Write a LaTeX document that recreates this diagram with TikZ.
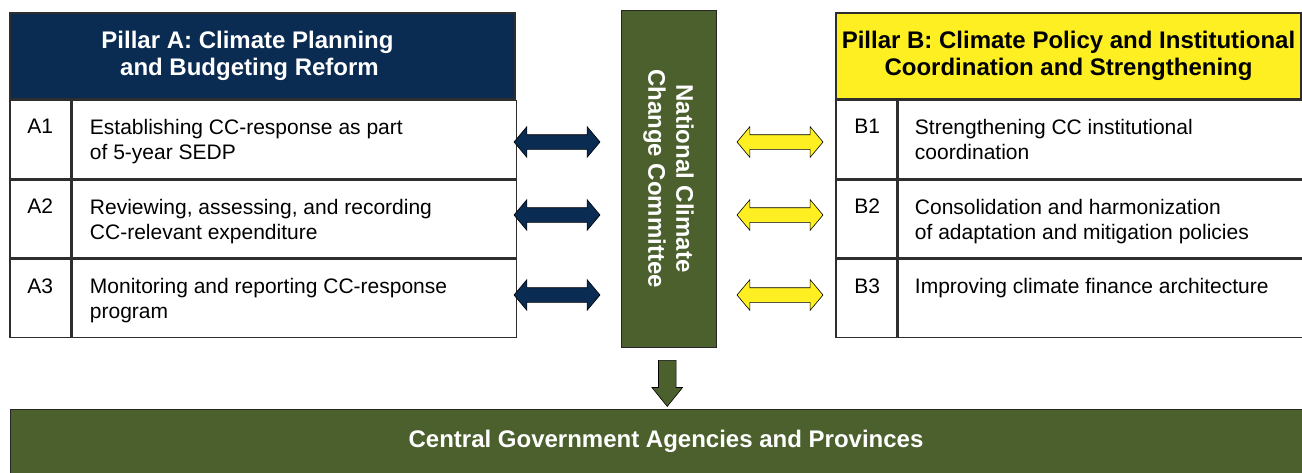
\documentclass[tikz,border=0pt]{standalone}
\usepackage{fontspec}
\setmainfont{Liberation Sans}
\usetikzlibrary{arrows.meta,calc,positioning,shapes.arrows}
\definecolor{pillarnavy}{HTML}{0A2B52}
\definecolor{pillaryellow}{HTML}{FDEF22}
\definecolor{nccgreen}{HTML}{4B602D}
\definecolor{tblline}{HTML}{2E2E2E}
\newcommand{\bodyfont}{\fontsize{21}{25}\selectfont}
\newcommand{\headfont}{\fontsize{24}{26.5}\selectfont\bfseries}

\begin{document}
\begin{tikzpicture}[
    x=1pt, y=-1pt,
    header/.style={draw=tblline, line width=1.5pt, fill=#1, minimum height=86,
                   align=center, font=\headfont, inner sep=0},
    idcell/.style={draw=tblline, line width=1.5pt, minimum width=61,
                   minimum height=78, anchor=north west, inner sep=0},
    txtcell/.style={idcell, minimum width=#1},
    celltext/.style={anchor=north west, inner sep=0, align=left, font=\bodyfont},
    dblarrow/.style={double arrow, fill=#1, draw=black, line width=0.6pt,
                     minimum height=86, inner xsep=0, inner ysep=7,
                     double arrow head extend=8, double arrow tip angle=100},
]
\useasboundingbox (0,0) rectangle (1302,472);

% Pillar A
\node[header=pillarnavy, text=white, minimum width=505] (ha) at (262.5,56)
     {\hspace*{-30pt}Pillar A: Climate Planning\\\hspace*{-26pt}and Budgeting Reform};
\node[idcell] (a1id) at (ha.south west) {};
\node[txtcell=444] (a1tx) at (a1id.north east) {};
\node[idcell] (a2id) at (a1id.south west) {};
\node[txtcell=444] (a2tx) at (a2id.north east) {};
\node[idcell] (a3id) at (a2id.south west) {};
\node[txtcell=444] (a3tx) at (a3id.north east) {};

\node[celltext] (a1l) at ($(a1id.north west)+(18,19.5)$) {A1};
\node[celltext] (a1t) at ($(a1tx.north west)+(18,19.5)$)
     {Establishing CC-response as part\\of 5-year SEDP};
\node[celltext] (a2l) at ($(a2id.north west)+(18,19.5)$) {A2};
\node[celltext] (a2t) at ($(a2tx.north west)+(18,19.5)$)
     {Reviewing, assessing, and recording\\CC-relevant expenditure};
\node[celltext] (a3l) at ($(a3id.north west)+(18,19.5)$) {A3};
\node[celltext] (a3t) at ($(a3tx.north west)+(18,19.5)$)
     {Monitoring and reporting CC-response\\program};

% Pillar B
\node[header=pillaryellow, minimum width=465] (hb) at (1068.5,56)
     {Pillar B: Climate Policy and Institutional\\Coordination and Strengthening};
\node[idcell] (b1id) at (hb.south west) {};
\node[txtcell=404] (b1tx) at (b1id.north east) {};
\node[idcell] (b2id) at (b1id.south west) {};
\node[txtcell=404] (b2tx) at (b2id.north east) {};
\node[idcell] (b3id) at (b2id.south west) {};
\node[txtcell=404] (b3tx) at (b3id.north east) {};

\node[celltext] (b1l) at ($(b1id.north west)+(19,19.5)$) {B1};
\node[celltext] (b1t) at ($(b1tx.north west)+(17,19.5)$)
     {Strengthening CC institutional\\coordination};
\node[celltext] (b2l) at ($(b2id.north west)+(19,19.5)$) {B2};
\node[celltext] (b2t) at ($(b2tx.north west)+(17,19.5)$)
     {Consolidation and harmonization\\of adaptation and mitigation policies};
\node[celltext] (b3l) at ($(b3id.north west)+(19,19.5)$) {B3};
\node[celltext] (b3t) at ($(b3tx.north west)+(17,19.5)$)
     {Improving climate finance architecture};

% Committee and agencies
\node[draw=black!85, line width=0.8pt, fill=nccgreen, text=white, rotate=-90,
      minimum width=337, minimum height=95, align=center, inner sep=0,
      font=\fontsize{24}{28}\selectfont\bfseries] (ncc) at (668.5,178.5)
     {National Climate\\Change Committee};
\node[draw=black!85, line width=0.8pt, fill=nccgreen, text=white,
      minimum width=1312, minimum height=64, inner sep=0,
      font=\fontsize{24}{26}\selectfont\bfseries] (cga) at (666,441)
     {Central Government Agencies and Provinces};

% Arrows
\node[dblarrow=pillarnavy] (la1) at (557,142) {};
\node[dblarrow=pillarnavy] (la2) at (557,215) {};
\node[dblarrow=pillarnavy] (la3) at (557,295) {};
\node[dblarrow=pillaryellow] (ra1) at (780,142) {};
\node[dblarrow=pillaryellow] (ra2) at (780,215) {};
\node[dblarrow=pillaryellow] (ra3) at (780,295) {};
\node[single arrow, fill=nccgreen, draw=black, line width=0.6pt,
      rotate=-90, minimum height=46, inner xsep=0, inner ysep=8.5,
      single arrow head extend=6.5, single arrow tip angle=78]
     (down) at ($(ncc.east)!0.5!(cga.north)$) {};
\end{tikzpicture}
\end{document}
